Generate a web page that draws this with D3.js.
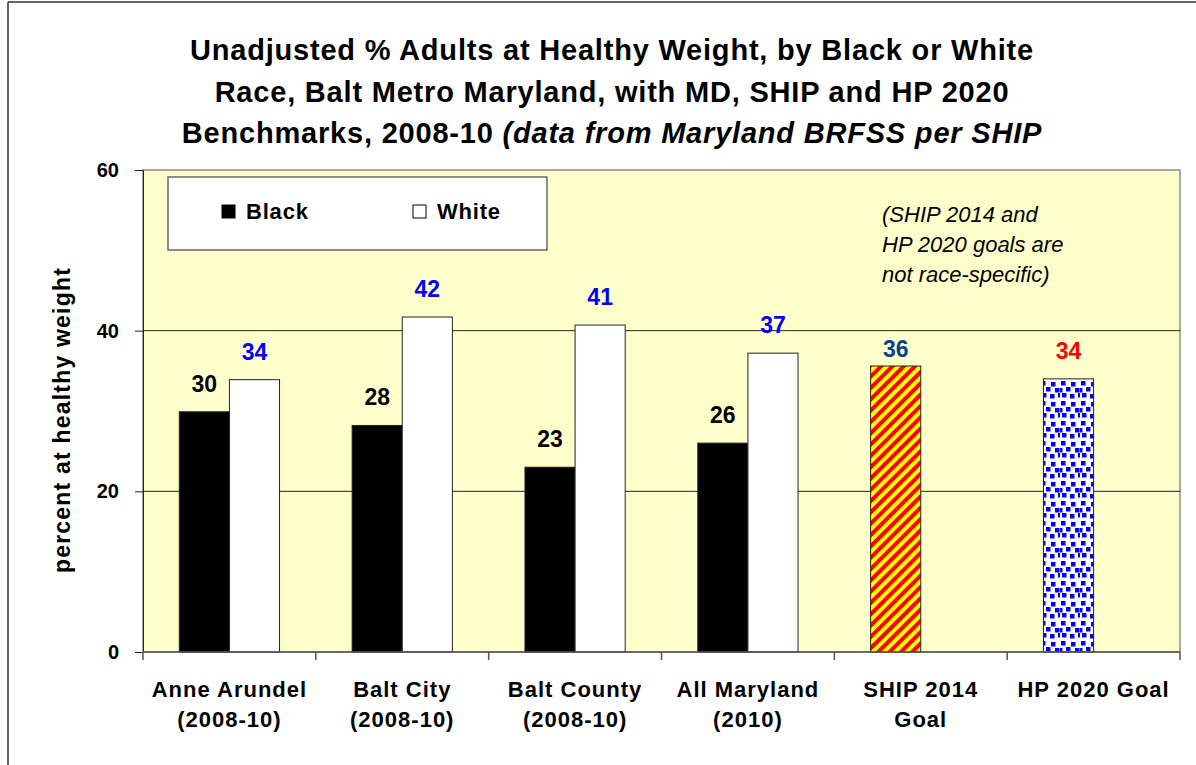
<!DOCTYPE html>
<html>
<head>
<meta charset="utf-8">
<script src="https://cdn.jsdelivr.net/npm/d3@7"></script>
<style>
  body { margin: 0; background: #fff; }
  text { font-family: "Liberation Sans", Arial, sans-serif; }
</style>
</head>
<body>
<div class="chart"></div>
<script>
var width = 1196;
var height = 765;

// data
var categories = [
  ["Anne Arundel", "(2008-10)"],
  ["Balt City", "(2008-10)"],
  ["Balt County", "(2008-10)"],
  ["All Maryland", "(2010)"],
  ["SHIP 2014", "Goal"],
  ["HP 2020 Goal"]
];
var seriesNames = ["Black", "White"];
// the two goal bars sit in the first slot of their group
var blackValues = [29.9, 28.2, 23.0, 26.0, 35.6, 34.0];
var whiteValues = [33.9, 41.7, 40.7, 37.2, null, null];
var blackLabels = ["30", "28", "23", "26", "36", "34"];
var whiteLabels = ["34", "42", "41", "37", null, null];
var yTicks = [0, 20, 40, 60];

var titleLines = [
  [["Unadjusted % Adults at Healthy Weight, by Black or White", false]],
  [["Race, Balt Metro Maryland, with MD, SHIP and HP 2020", false]],
  [["Benchmarks, 2008-10 ", false], ["(data from Maryland BRFSS per SHIP", true]]
];
var noteLines = ["(SHIP 2014 and", "HP 2020 goals are", "not race-specific)"];

var margin = {top: 170, left: 143, right: 16, bottom: 113};

var svg = d3.select(".chart").append("svg")
  .attr("width", width)
  .attr("height", height);

// patterns for the goal bars
var defs = svg.append("defs");
var stripes = defs.append("pattern")
  .attr("id", "stripes")
  .attr("patternUnits", "userSpaceOnUse")
  .attr("width", 8).attr("height", 8)
  .attr("patternTransform", "rotate(45)");
stripes.append("rect").attr("width", 8).attr("height", 8).attr("fill", "#ffff00");
stripes.append("rect").attr("width", 4).attr("height", 8).attr("fill", "#ff0000");

var dots = defs.append("pattern")
  .attr("id", "dots")
  .attr("patternUnits", "userSpaceOnUse")
  .attr("width", 20).attr("height", 20);
dots.append("rect").attr("width", 20).attr("height", 20).attr("fill", "#ffffff");
[[1, 1], [11, 2], [6, 7], [15, 8], [2, 13], [10, 14], [-2, 8], [18, 13]].forEach(function(p) {
  dots.append("rect").attr("x", p[0]).attr("y", p[1])
    .attr("width", 4.5).attr("height", 4.5).attr("fill", "#0000ff");
});

// outer frame
svg.append("line").attr("x1", 8).attr("x2", width).attr("y1", 2).attr("y2", 2)
  .attr("stroke", "#333").attr("stroke-width", 1.5);
svg.append("line").attr("x1", 8).attr("x2", 8).attr("y1", 2).attr("y2", height)
  .attr("stroke", "#333").attr("stroke-width", 1.5);

var x0 = d3.scaleBand()
  .domain(d3.range(categories.length))
  .range([margin.left, width - margin.right])
  .paddingInner(0.42)
  .paddingOuter(0.21);
var x1 = d3.scaleBand()
  .domain(seriesNames)
  .range([0, x0.bandwidth()]);
var y = d3.scaleLinear()
  .domain([0, 60])
  .range([height - margin.bottom, margin.top]);

var plotL = margin.left, plotR = width - margin.right;
var plotT = y(60), plotB = y(0);

// plot area
svg.append("rect")
  .attr("x", plotL).attr("y", plotT)
  .attr("width", plotR - plotL).attr("height", plotB - plotT)
  .attr("fill", "#ffffcc")
  .attr("stroke", "#8c8c8c").attr("stroke-width", 1.5);

// gridlines
svg.append("g").selectAll("line")
  .data(yTicks.filter(function(d) { return d > 0 && d < 60; }))
  .enter().append("line")
  .attr("x1", plotL).attr("x2", plotR)
  .attr("y1", function(d) { return y(d); })
  .attr("y2", function(d) { return y(d); })
  .attr("stroke", "#222").attr("stroke-width", 1);

// title
var title = svg.append("text")
  .attr("text-anchor", "middle")
  .attr("font-size", "29px")
  .attr("font-weight", "bold")
  .attr("letter-spacing", "0.8px");
titleLines.forEach(function(line, i) {
  line.forEach(function(part, j) {
    var ts = title.append("tspan").text(part[0]);
    if (j === 0) ts.attr("x", 612).attr("y", 60 + i * 41.5);
    if (part[1]) ts.attr("font-style", "italic");
  });
});

// bars
var bars = [];
categories.forEach(function(c, i) {
  if (blackValues[i] != null) bars.push({i: i, s: "Black", v: blackValues[i], label: blackLabels[i]});
  if (whiteValues[i] != null) bars.push({i: i, s: "White", v: whiteValues[i], label: whiteLabels[i]});
});

function barFill(d) {
  if (d.i === 4) return "url(#stripes)";
  if (d.i === 5) return "url(#dots)";
  return d.s === "Black" ? "#000000" : "#ffffff";
}
function labelColor(d) {
  if (d.i === 4) return "#0a3f92";
  if (d.i === 5) return "#ff0000";
  return d.s === "Black" ? "#000000" : "#0000ff";
}

svg.append("g").selectAll("rect")
  .data(bars)
  .enter().append("rect")
  .attr("x", function(d) { return x0(d.i) + x1(d.s); })
  .attr("y", function(d) { return y(d.v); })
  .attr("width", x1.bandwidth())
  .attr("height", function(d) { return y(0) - y(d.v); })
  .attr("fill", barFill)
  .attr("stroke", "#222")
  .attr("stroke-width", 1);

svg.append("g").selectAll("text")
  .data(bars)
  .enter().append("text")
  .attr("x", function(d) { return x0(d.i) + x1(d.s) + x1.bandwidth() / 2; })
  .attr("y", function(d) { return y(d.v) - (d.i === 4 ? 9 : 20); })
  .attr("text-anchor", "middle")
  .attr("font-size", "23px")
  .attr("font-weight", "bold")
  .attr("fill", labelColor)
  .text(function(d) { return d.label; });

// y axis
var yAxis = svg.append("g")
  .attr("transform", "translate(" + plotL + ",0)")
  .call(d3.axisLeft(y).tickValues(yTicks).tickSize(8).tickPadding(16));
yAxis.select(".domain").attr("stroke", "#222");
yAxis.selectAll(".tick line").attr("stroke", "#222");
yAxis.selectAll("text")
  .attr("font-family", "Liberation Sans, Arial, sans-serif")
  .attr("font-size", "20px")
  .attr("font-weight", "bold")
  .attr("fill", "#000");

svg.append("text")
  .attr("transform", "translate(70," + ((plotT + plotB) / 2 + 9) + ") rotate(-90)")
  .attr("text-anchor", "middle")
  .attr("font-size", "23px")
  .attr("font-weight", "bold")
  .attr("letter-spacing", "1.2px")
  .text("percent at healthy weight");

// x axis: baseline plus ticks at category boundaries
var step = x0.step();
var bounds = d3.range(categories.length + 1).map(function(k) { return plotL + k * step; });
svg.append("line")
  .attr("x1", plotL).attr("x2", plotR).attr("y1", plotB).attr("y2", plotB)
  .attr("stroke", "#555").attr("stroke-width", 1.5);
svg.append("g").selectAll("line")
  .data(bounds)
  .enter().append("line")
  .attr("x1", function(d) { return d; }).attr("x2", function(d) { return d; })
  .attr("y1", plotB).attr("y2", plotB + 8)
  .attr("stroke", "#555").attr("stroke-width", 1.5);

var xl = svg.append("g").selectAll("text")
  .data(categories)
  .enter().append("text")
  .attr("text-anchor", "middle")
  .attr("font-size", "22px")
  .attr("font-weight", "bold")
  .attr("letter-spacing", "1px");
xl.each(function(d, i) {
  var t = d3.select(this);
  d.forEach(function(line, k) {
    t.append("tspan")
      .attr("x", x0(i) + x0.bandwidth() / 2)
      .attr("y", 697 + k * 30)
      .text(line);
  });
});

// legend
var lg = svg.append("g");
lg.append("rect")
  .attr("x", 168).attr("y", 177).attr("width", 379).attr("height", 73)
  .attr("fill", "#fff").attr("stroke", "#444").attr("stroke-width", 1.2);
var legendX = [222, 413];
seriesNames.forEach(function(s, i) {
  lg.append("rect")
    .attr("x", legendX[i]).attr("y", 205).attr("width", 13).attr("height", 13)
    .attr("fill", s === "Black" ? "#000" : "#fff")
    .attr("stroke", "#000").attr("stroke-width", 1);
  lg.append("text")
    .attr("x", legendX[i] + 24).attr("y", 219)
    .attr("font-size", "22px").attr("font-weight", "bold")
    .attr("letter-spacing", "0.8px")
    .text(s);
});

// note
svg.append("g").selectAll("text")
  .data(noteLines)
  .enter().append("text")
  .attr("x", 882)
  .attr("y", function(d, i) { return 222 + i * 30; })
  .attr("font-size", "22px")
  .attr("font-style", "italic")
  .text(function(d) { return d; });
</script>
</body>
</html>
